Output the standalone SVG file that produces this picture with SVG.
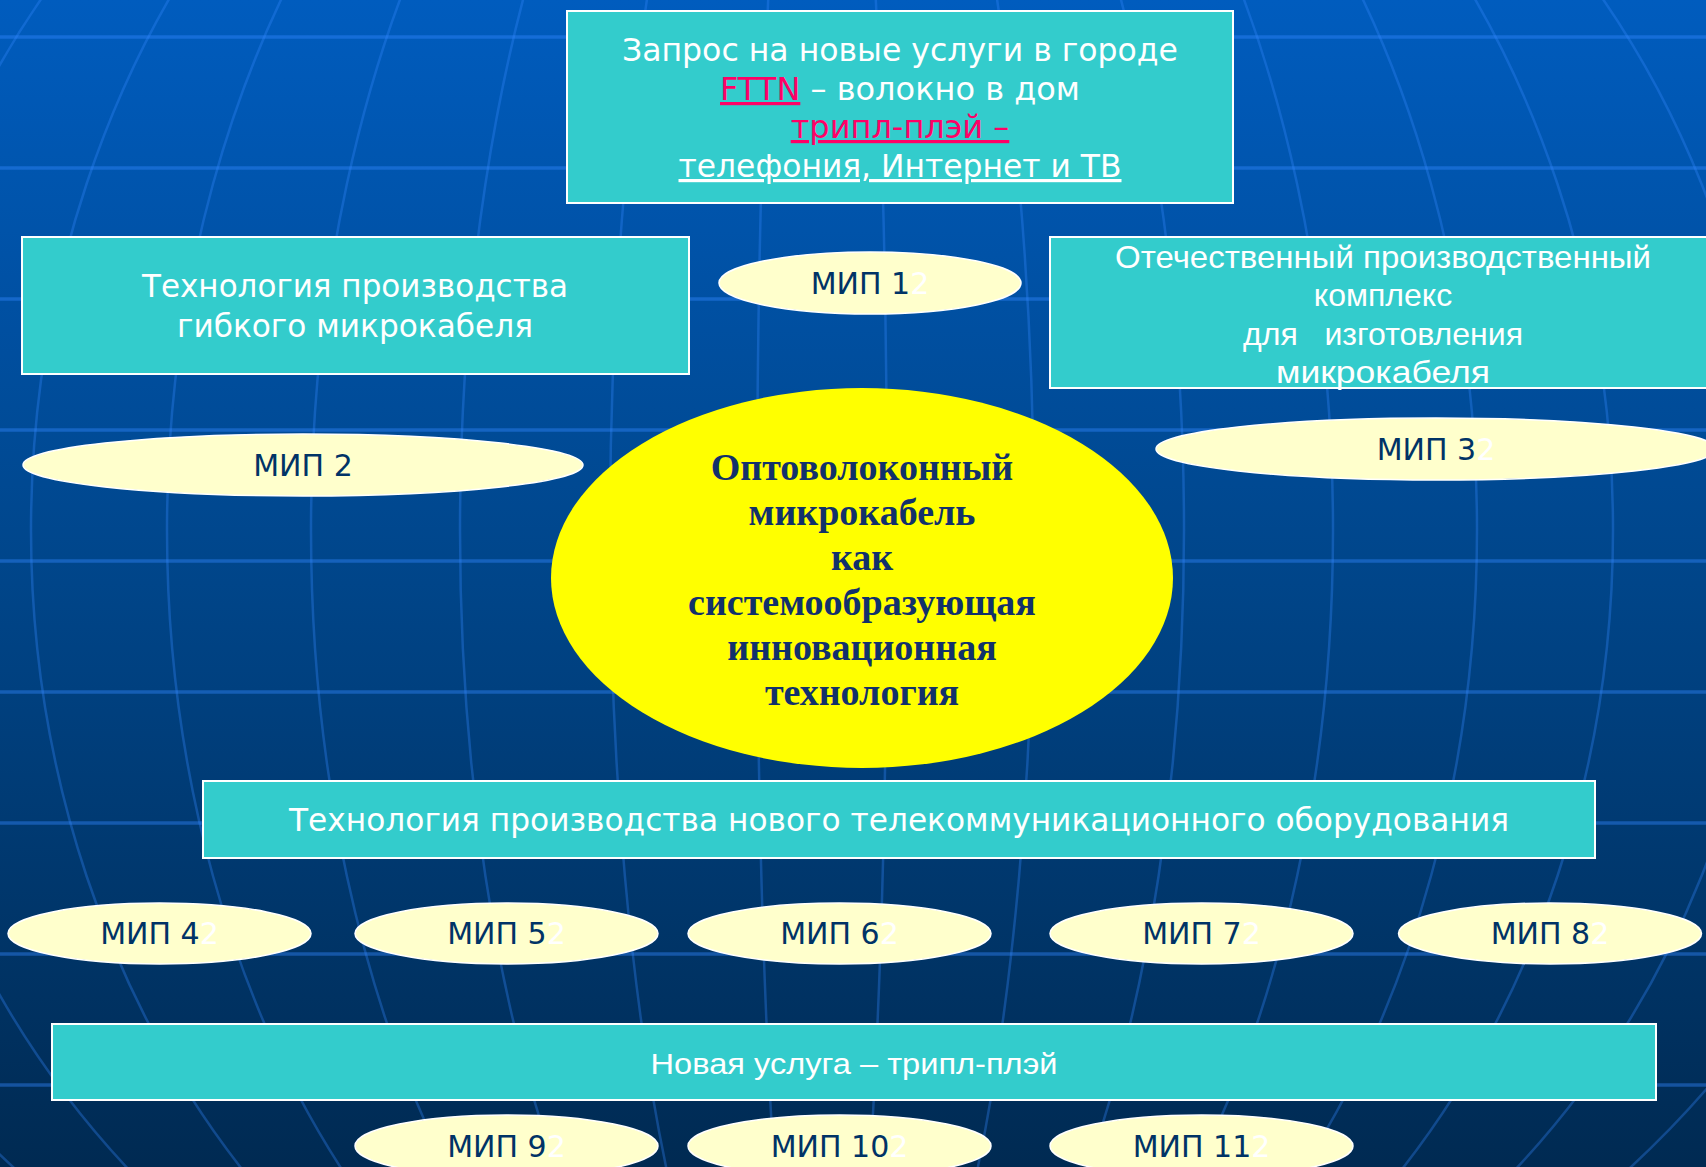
<svg xmlns="http://www.w3.org/2000/svg" width="1706" height="1167" viewBox="0 0 1706 1167">
<defs>
<linearGradient id="bg" x1="0" y1="0" x2="0" y2="1">
<stop offset="0" stop-color="#005CBE"/>
<stop offset="0.5" stop-color="#004589"/>
<stop offset="1" stop-color="#002A52"/>
</linearGradient>
<style>
.hl{stroke:#3388FF;stroke-opacity:0.42;stroke-width:3.5;fill:none}
.mer{stroke:#3388FF;stroke-opacity:0.33;stroke-width:2.5;fill:none}
.box{fill:#33CCCC;stroke:#FFFFFF;stroke-width:2}
.mip{fill:#FFFFCC;stroke:#FFFFFF;stroke-width:1.5}
.t{font-family:"DejaVu Sans",Verdana,sans-serif;font-size:32px;fill:#FFFFFF;text-anchor:middle}
.a{font-family:"Liberation Sans",Arial,sans-serif;fill:#FFFFFF;text-anchor:middle}
.m{font-family:"DejaVu Sans",Verdana,sans-serif;font-size:30px;fill:#003366;text-anchor:middle}
.w{fill:#FFFFFF}
.pk{fill:#FF0066}
.u{text-decoration:underline}
.c{font-family:"Liberation Serif","Times New Roman",serif;font-weight:bold;font-size:38px;fill:#12316B;text-anchor:middle}
</style>
</defs>
<rect x="0" y="0" width="1706" height="1167" fill="url(#bg)"/>
<g id="grid">
<line class="hl" x1="0" y1="37" x2="1706" y2="37"/>
<line class="hl" x1="0" y1="168" x2="1706" y2="168"/>
<line class="hl" x1="0" y1="299" x2="1706" y2="299"/>
<line class="hl" x1="0" y1="430" x2="1706" y2="430"/>
<line class="hl" x1="0" y1="561" x2="1706" y2="561"/>
<line class="hl" x1="0" y1="692" x2="1706" y2="692"/>
<line class="hl" x1="0" y1="823" x2="1706" y2="823"/>
<line class="hl" x1="0" y1="954" x2="1706" y2="954"/>
<line class="hl" x1="0" y1="1085" x2="1706" y2="1085"/>
<ellipse class="mer" cx="822" cy="530" rx="65" ry="940"/>
<ellipse class="mer" cx="822" cy="530" rx="212" ry="940"/>
<ellipse class="mer" cx="822" cy="530" rx="362" ry="940"/>
<ellipse class="mer" cx="822" cy="530" rx="511" ry="940"/>
<ellipse class="mer" cx="822" cy="530" rx="655" ry="940"/>
<ellipse class="mer" cx="822" cy="530" rx="791" ry="940"/>
<ellipse class="mer" cx="822" cy="530" rx="946" ry="940"/>
<ellipse class="mer" cx="822" cy="530" rx="1100" ry="940"/>
</g>
<g id="node-request">
<rect class="box" x="567" y="11" width="666" height="192"/>
<text class="t" x="900" y="61" textLength="556" lengthAdjust="spacingAndGlyphs">Запрос на новые услуги в городе</text>
<text class="t" x="900" y="100"><tspan class="pk u">FTTN</tspan><tspan class="w"> – волокно в дом</tspan></text>
<text class="t pk u" x="900" y="138">трипл-плэй –</text>
<text class="t u" x="900" y="177" textLength="443" lengthAdjust="spacingAndGlyphs">телефония, Интернет и ТВ</text>
</g>
<g id="node-flex-cable">
<rect class="box" x="22" y="237" width="667" height="137"/>
<text class="t" x="355" y="297" textLength="426" lengthAdjust="spacingAndGlyphs">Технология производства</text>
<text class="t" x="355" y="337" textLength="356" lengthAdjust="spacingAndGlyphs">гибкого микрокабеля</text>
</g>
<g id="node-mip1">
<ellipse class="mip" cx="870" cy="283" rx="151" ry="31"/>
<text class="m" x="870" y="294">МИП 1<tspan class="w">2</tspan></text>
</g>
<g id="node-complex">
<rect class="box" x="1050" y="237" width="670" height="151"/>
<text class="a" x="1383" y="268" font-size="32" textLength="536" lengthAdjust="spacingAndGlyphs">Отечественный производственный</text>
<text class="a" x="1383" y="306" font-size="32">комплекс</text>
<text class="a" x="1383" y="345" font-size="32" xml:space="preserve" textLength="280" lengthAdjust="spacingAndGlyphs">для   изготовления</text>
<text class="a" x="1383" y="383" font-size="32" textLength="214" lengthAdjust="spacingAndGlyphs">микрокабеля</text>
</g>
<g id="node-mip2">
<ellipse class="mip" cx="303" cy="465" rx="280" ry="31"/>
<text class="m" x="303" y="476">МИП 2</text>
</g>
<g id="node-mip3">
<ellipse class="mip" cx="1436" cy="449" rx="280" ry="31"/>
<text class="m" x="1436" y="460">МИП 3<tspan class="w">2</tspan></text>
</g>
<g id="node-core">
<ellipse cx="862" cy="578" rx="311" ry="190" fill="#FFFF00"/>
<text class="c" x="862" y="480">Оптоволоконный</text>
<text class="c" x="862" y="525">микрокабель</text>
<text class="c" x="862" y="570">как</text>
<text class="c" x="862" y="615">системообразующая</text>
<text class="c" x="862" y="660">инновационная</text>
<text class="c" x="862" y="705">технология</text>
</g>
<g id="node-equipment">
<rect class="box" x="203" y="781" width="1392" height="77"/>
<text class="t" x="899" y="831" font-size="31" textLength="1220" lengthAdjust="spacingAndGlyphs">Технология производства нового телекоммуникационного оборудования</text>
</g>
<g id="node-mip4">
<ellipse class="mip" cx="159.5" cy="933.5" rx="151.5" ry="30.5"/>
<text class="m" x="159.5" y="944">МИП 4<tspan class="w">2</tspan></text>
</g>
<g id="node-mip5">
<ellipse class="mip" cx="506.5" cy="933.5" rx="151.5" ry="30.5"/>
<text class="m" x="506.5" y="944">МИП 5<tspan class="w">2</tspan></text>
</g>
<g id="node-mip6">
<ellipse class="mip" cx="839.5" cy="933.5" rx="151.5" ry="30.5"/>
<text class="m" x="839.5" y="944">МИП 6<tspan class="w">2</tspan></text>
</g>
<g id="node-mip7">
<ellipse class="mip" cx="1201.5" cy="933.5" rx="151.5" ry="30.5"/>
<text class="m" x="1201.5" y="944">МИП 7<tspan class="w">2</tspan></text>
</g>
<g id="node-mip8">
<ellipse class="mip" cx="1550" cy="933.5" rx="151.5" ry="30.5"/>
<text class="m" x="1550" y="944">МИП 8<tspan class="w">2</tspan></text>
</g>
<g id="node-service">
<rect class="box" x="52" y="1024" width="1604" height="76"/>
<text class="a" x="854" y="1074" font-size="29" textLength="407" lengthAdjust="spacingAndGlyphs">Новая услуга – трипл-плэй</text>
</g>
<g id="node-mip9">
<ellipse class="mip" cx="506.5" cy="1146" rx="151.5" ry="31"/>
<text class="m" x="506.5" y="1157">МИП 9<tspan class="w">2</tspan></text>
</g>
<g id="node-mip10">
<ellipse class="mip" cx="839.5" cy="1146" rx="151.5" ry="31"/>
<text class="m" x="839.5" y="1157">МИП 10<tspan class="w">2</tspan></text>
</g>
<g id="node-mip11">
<ellipse class="mip" cx="1201.5" cy="1146" rx="151.5" ry="31"/>
<text class="m" x="1201.5" y="1157">МИП 11<tspan class="w">2</tspan></text>
</g>
</svg>
